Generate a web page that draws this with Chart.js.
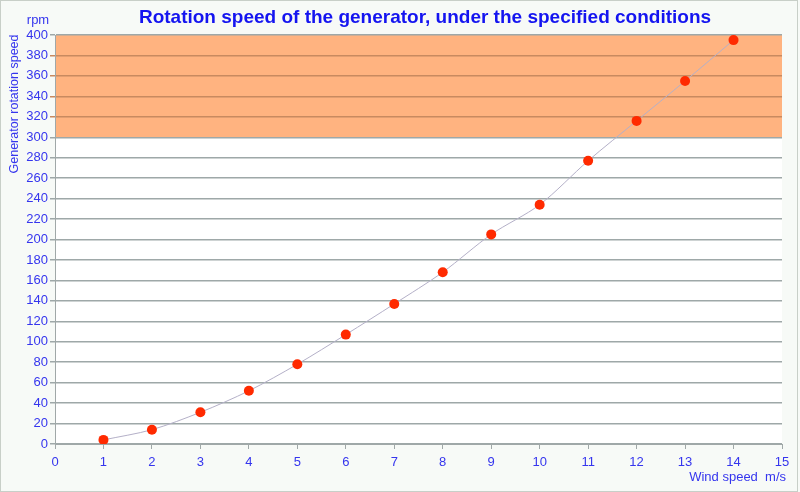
<!DOCTYPE html>
<html>
<head>
<meta charset="utf-8">
<script src="https://cdn.jsdelivr.net/npm/chart.js@4"></script>
<style>
  html, body { margin: 0; padding: 0; background: #f7faf7; }
  #wrap { width: 800px; height: 492px; position: relative; }
</style>
</head>
<body>
<div id="wrap"><canvas id="speedChart" width="800" height="492"></canvas></div>
<script>
// Wind speed (m/s) and generator rotation speed (rpm)
const windSpeed = [1, 2, 3, 4, 5, 6, 7, 8, 9, 10, 11, 12, 13, 14];
const rotationSpeed = [4, 14, 31, 52, 78, 107, 137, 168, 205, 234, 277, 316, 355, 395];
const xTicks = [0, 1, 2, 3, 4, 5, 6, 7, 8, 9, 10, 11, 12, 13, 14, 15];
const yTicks = [0, 20, 40, 60, 80, 100, 120, 140, 160, 180, 200, 220, 240, 260, 280, 300, 320, 340, 360, 380, 400];
const limitBand = [300, 400];

const blue = '#3535ee';
const font = 'Liberation Sans, Arial, sans-serif';

// Orange band + free texts
const decor = {
    id: 'decor',
    beforeDraw(chart) {
        const { ctx, chartArea, scales } = chart;
        ctx.save();
        ctx.fillStyle = '#f7faf7';
        ctx.fillRect(0, 0, chart.width, chart.height);
        ctx.strokeStyle = '#c8cfc8';
        ctx.lineWidth = 1;
        ctx.strokeRect(0.5, 0.5, chart.width - 3, chart.height - 1);
        ctx.fillStyle = '#ffffff';
        ctx.fillRect(chartArea.left, chartArea.top, chartArea.right - chartArea.left, chartArea.bottom - chartArea.top);
        const yTop = scales.y.getPixelForValue(limitBand[1]);
        const yBot = scales.y.getPixelForValue(limitBand[0]);
        ctx.fillStyle = '#ffb380';
        ctx.fillRect(chartArea.left, yTop, chartArea.right - chartArea.left, yBot - yTop);
        ctx.restore();
    },
    afterDraw(chart) {
        const { ctx } = chart;
        ctx.save();
        ctx.fillStyle = '#1414f0';
        ctx.font = 'bold 19px ' + font;
        ctx.textAlign = 'center';
        ctx.textBaseline = 'middle';
        ctx.fillText('Rotation speed of the generator, under the specified conditions', 425, 18);

        ctx.fillStyle = blue;
        ctx.font = '13px ' + font;
        ctx.fillText('rpm', 38, 20);
        ctx.textAlign = 'right';
        ctx.fillText('Wind speed  m/s', 786, 477);

        ctx.font = '12.5px ' + font;
        ctx.translate(15, 104);
        ctx.rotate(-Math.PI / 2);
        ctx.textAlign = 'center';
        ctx.fillText('Generator rotation speed', 0, 0);
        ctx.restore();
    }
};

const ctx = document.getElementById('speedChart').getContext('2d');

new Chart(ctx, {
    type: 'scatter',
    data: {
        datasets: [{
            label: 'Rotation speed',
            data: windSpeed.map((w, i) => ({ x: w, y: rotationSpeed[i] })),
            showLine: true,
            borderColor: '#b4b0c8',
            borderWidth: 1,
            tension: 0.3,
            pointRadius: 5,
            pointBackgroundColor: '#ff2a00',
            pointBorderColor: '#ff2a00',
            pointBorderWidth: 0
        }]
    },
    options: {
        responsive: false,
        animation: false,
        layout: { padding: { top: 35, right: 18, left: 0, bottom: 0 } },
        plugins: {
            legend: { display: false },
            tooltip: { enabled: false }
        },
        scales: {
            x: {
                type: 'linear',
                min: xTicks[0],
                max: xTicks[xTicks.length - 1],
                afterBuildTicks: s => { s.ticks = xTicks.map(v => ({ value: v })); },
                afterFit: s => { s.height = 48; },
                border: { color: '#a0a8a8', width: 1 },
                grid: { drawOnChartArea: false, drawTicks: true, tickLength: 5, color: '#a0a8a8' },
                ticks: { color: blue, font: { family: font, size: 13 }, padding: 6, maxRotation: 0 }
            },
            y: {
                min: yTicks[0],
                max: yTicks[yTicks.length - 1],
                afterBuildTicks: s => { s.ticks = yTicks.map(v => ({ value: v })); },
                afterFit: s => { s.width = 55; },
                border: { color: '#a0a8a8', width: 1 },
                grid: {
                    tickLength: 5,
                    lineWidth: 1.5,
                    color: c => (c.tick && c.tick.value > limitBand[0] && c.tick.value < limitBand[1]) ? '#c88a60' : '#9ea8a8'
                },
                ticks: { color: blue, font: { family: font, size: 13 }, padding: 2 }
            }
        }
    },
    plugins: [decor]
});
</script>
</body>
</html>
